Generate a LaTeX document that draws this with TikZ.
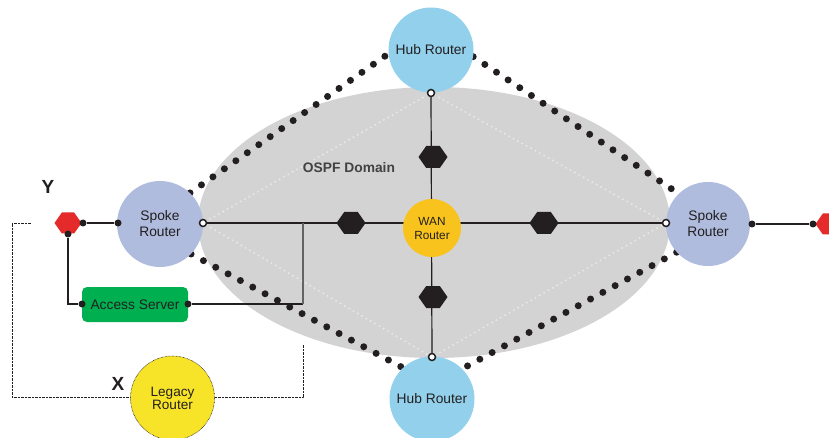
\documentclass[tikz,border=0pt]{standalone}
\usepackage{fontspec}
\setmainfont{Liberation Sans}
\usetikzlibrary{shapes.geometric,shapes.symbols,calc}
\definecolor{domgray}{RGB}{211,211,211}
\definecolor{hubblue}{RGB}{146,208,236}
\definecolor{spokeblue}{RGB}{175,188,222}
\definecolor{wanyellow}{RGB}{249,195,30}
\definecolor{legyellow}{RGB}{247,228,40}
\definecolor{accgreen}{RGB}{0,176,80}
\definecolor{hexred}{RGB}{228,42,42}
\definecolor{inkblack}{RGB}{35,31,32}
\definecolor{lightdots}{RGB}{232,232,232}
\pgfdeclarelayer{bg}
\pgfsetlayers{bg,main}
\begin{document}
\begin{tikzpicture}[x=1pt,y=-1pt,
  txt/.style={font=\fontsize{13.8}{16}\selectfont, text=inkblack, align=center},
  router/.style={circle, inner sep=0pt, txt},
  hexb/.style={signal, signal to=east and west, signal pointer angle=110, fill=inkblack, minimum width=29pt, minimum height=22pt, inner sep=0pt},
  hexr/.style={signal, signal to=east and west, signal pointer angle=110, fill=hexred, minimum width=27pt, minimum height=21pt, inner sep=0pt},
  bdot/.style={circle, fill=inkblack, minimum size=7pt, inner sep=0pt},
  hdot/.style={circle, fill=white, draw=inkblack, line width=1.5pt, minimum size=7pt, inner sep=0pt},
  wire/.style={draw=inkblack, line width=1.2pt},
  bigdots/.style={draw=inkblack, line width=7pt, line cap=round, dash pattern=on 0pt off 14pt},
  lightdotted/.style={draw=lightdots, line width=2.2pt, line cap=round, dash pattern=on 0pt off 5pt},
  thindotted/.style={draw=inkblack, line width=0.6pt, dash pattern=on 0.6pt off 0.8pt}
]
\useasboundingbox (0,0) rectangle (829,438);

% domain
\begin{pgfonlayer}{bg}
\node[ellipse, fill=domgray, minimum width=472pt, minimum height=271pt, inner sep=0pt] (dom) at (434,222.5) {};
\end{pgfonlayer}

% routers
\node[router, fill=hubblue, minimum size=85pt] (hubT) at (431,50) {Hub Router};
\node[router, fill=hubblue, minimum size=85pt] (hubB) at (432,399) {Hub Router};
\node[router, fill=spokeblue, minimum size=86pt] (spokeL) at (160,224) {Spoke\\Router};
\node[router, fill=spokeblue, minimum size=84pt] (spokeR) at (708,224) {Spoke\\Router};
\node[router, fill=wanyellow, minimum size=58pt, font=\fontsize{11.8}{14}\selectfont] (wan) at (432,228) {WAN\\Router};
\node[router, fill=legyellow, draw=inkblack, thindotted, minimum size=84pt, font=\fontsize{13.6}{13}\selectfont] (legacy) at (172.5,398) {Legacy\\Router};

% access server
\node[rectangle, rounded corners=5pt, fill=accgreen, minimum width=106pt, minimum height=35pt, inner sep=0pt, txt] (access) at (135,304.5) {Access Server};

% hexagons
\node[hexb] (h1) at (433,157) {};
\node[hexb] (h2) at (351,223) {};
\node[hexb] (h3) at (544,223) {};
\node[hexb] (h4) at (433,297) {};
\node[hexr] (rL) at (68,223) {};
\node[hexr] (rR) at (829,224) {};

% connection dots
\node[hdot] (hT) at (431,93) {};
\node[hdot] (hB) at (432,357) {};
\node[hdot] (hL) at (203,223) {};
\node[hdot] (hR) at (666,223) {};
\node[bdot] (d1) at (83,223) {};
\node[bdot] (d2) at (118,223) {};
\node[bdot] (d3) at (68,234) {};
\node[bdot] (d4) at (82,304) {};
\node[bdot] (d5) at (188,304) {};
\node[bdot] (d6) at (752,224) {};
\node[bdot] (d7) at (813,224) {};

% labels
\node[font=\bfseries\fontsize{13.8}{16}\selectfont, text=inkblack!85] (ospf) at (349,168) {OSPF Domain};
\node[font=\bfseries\fontsize{19}{20}\selectfont, text=inkblack] (ylab) at (48,187) {Y};
\node[font=\bfseries\fontsize{19}{20}\selectfont, text=inkblack] (xlab) at (118,384) {X};

% coordinates
\coordinate (j) at (303,223);
\coordinate (k) at (303,304);
\coordinate (c1) at (68,304);
\coordinate (t1) at (31,223);
\coordinate (t2) at (12,223);
\coordinate (t3) at (12,397);
\coordinate (t4) at (303,397);
\coordinate (t5) at (303,345);

\begin{pgfonlayer}{bg}
% light dotted lines inside domain
\draw[lightdotted] (hT) -- (hL) -- (hB) -- (hR) -- (hT);
% main wires
\draw[wire] (hL) -- (hR);
\draw[wire] (hT) -- (hB);
\draw[wire] (d1) -- (d2);
\draw[wire] (d3) -- (c1) -- (d4);
\draw[wire] (d5) -- (k);
\draw[wire, draw=inkblack!70] (k) -- (j);
\draw[wire] (d6) -- (d7);
% big dotted links
\draw[bigdots] (spokeL.46) -- (hubT.185);
\draw[bigdots] (hubT.-9) -- (spokeR.134);
\draw[bigdots] (spokeL.-44) -- (hubB.133);
\draw[bigdots] (spokeR.222) -- (hubB.45);
% thin dotted legacy path
\draw[thindotted] (t1) -- (t2) -- (t3) -- (t3 -| legacy.west);
\draw[thindotted] (t4 -| legacy.east) -- (t4) -- (t5);
\end{pgfonlayer}
\end{tikzpicture}
\end{document}
